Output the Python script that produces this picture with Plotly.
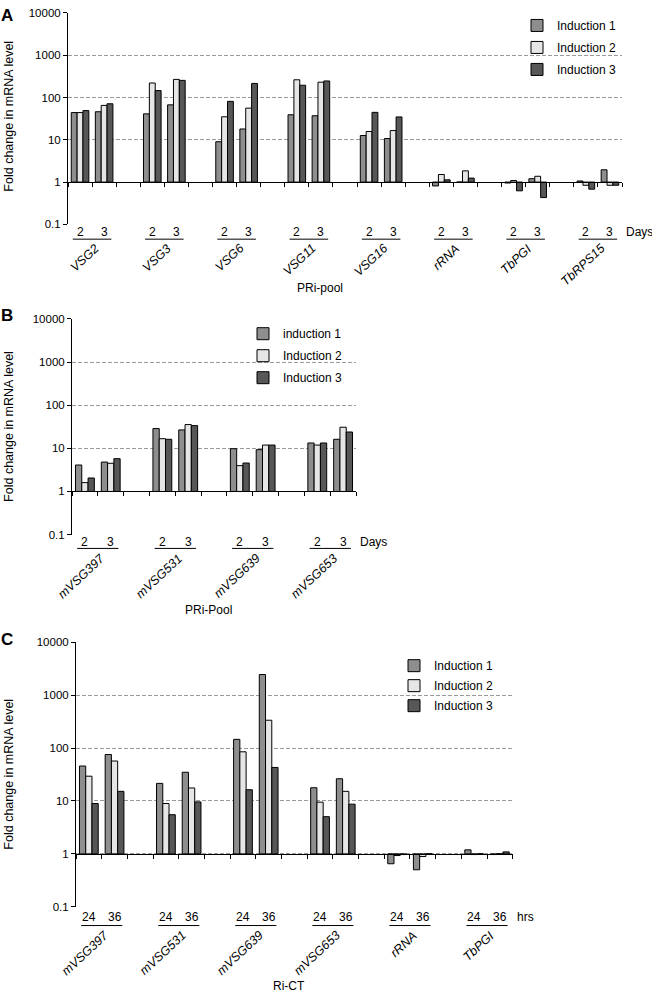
import plotly.graph_objects as go

W, H = 652, 1000
FONT = "Liberation Sans, Arial, sans-serif"

# ---------------- data ----------------
# Panel A (PRi-pool), values per gene for day 2 and day 3
a_genes = ["VSG2", "VSG3", "VSG6", "VSG11", "VSG16", "rRNA", "TbPGI", "TbRPS15"]
a_times = ["2", "3"]
a_ind1 = [44, 46, 41, 67, 9, 18, 39, 37, 12.6, 10.7, 0.81, 1.0, 0.95, 1.2, 1.06, 1.95]
a_ind2 = [44, 65, 220, 268, 35, 56, 262, 230, 15.7, 16.5, 1.51, 1.84, 1.09, 1.37, 0.84, 0.84]
a_ind3 = [49, 71, 146, 254, 81, 215, 195, 246, 44.5, 34.7, 1.13, 1.24, 0.62, 0.43, 0.68, 0.84]

# Panel B (PRi-Pool)
b_genes = ["mVSG397", "mVSG531", "mVSG639", "mVSG653"]
b_times = ["2", "3"]
b_ind1 = [4.1, 4.8, 28.7, 26.7, 9.8, 9.3, 13.3, 16.2]
b_ind2 = [1.6, 4.5, 16.7, 35.5, 3.96, 11.9, 11.9, 30.8]
b_ind3 = [2.05, 5.75, 16.2, 33.6, 4.56, 11.9, 13.3, 23.9]

# Panel C (Ri-CT), values per gene for 24 h and 36 h
c_genes = ["mVSG397", "mVSG531", "mVSG639", "mVSG653", "rRNA", "TbPGI"]
c_times = ["24", "36"]
c_ind1 = [45.8, 75.5, 21.5, 34.9, 146, 2455, 17.8, 26.3, 0.65, 0.5, 1.19, 0.97]
c_ind2 = [29.4, 56.9, 8.95, 17.6, 85, 336, 9.5, 15.2, 0.93, 0.89, 0.97, 1.0]
c_ind3 = [8.95, 15.2, 5.5, 9.6, 16.3, 43, 5.05, 8.7, 0.97, 1.0, 1.0, 1.09]

y_tickvals = [0.1, 1, 10, 100, 1000, 10000]
y_ticktext = ["0.1", "1", "10", "100", "1000", "10000"]

# ---------------- styling / layout positions (pixels) ----------------
colors = ["#8e8e8e", "#e6e6e6", "#575757"]

panels = [
    dict(letter="A", genes=a_genes, times=a_times, vals=[a_ind1, a_ind2, a_ind3],
         names=["Induction 1", "Induction 2", "Induction 3"],
         x0=68, x1=622, ytop=7, ybot=221, unit="Days", title="PRi-pool", title_x=320,
         title_y=285, num_dy=8, line_dy=15, legend_x=557, legend_top=5, legend_gap=3,
         letter_y=10, ytitle_y=112),
    dict(letter="B", genes=b_genes, times=b_times, vals=[b_ind1, b_ind2, b_ind3],
         names=["induction 1", "Induction 2", "Induction 3"],
         x0=72, x1=356, ytop=316.7, ybot=535, unit="Days", title="PRi-Pool", title_x=208,
         title_y=611, num_dy=8, line_dy=14, legend_x=283, legend_top=317, legend_gap=3,
         letter_y=313, ytitle_y=426),
    dict(letter="C", genes=c_genes, times=c_times, vals=[c_ind1, c_ind2, c_ind3],
         names=["Induction 1", "Induction 2", "Induction 3"],
         x0=76, x1=512.7, ytop=644, ybot=911.7, unit="hrs", title="Ri-CT", title_x=289,
         title_y=992, num_dy=10, line_dy=19, legend_x=434, legend_top=653, legend_gap=1,
         letter_y=641, ytitle_y=778),
]


def px(x):
    return x / W


def py(y):
    return 1 - y / H


fig = go.Figure()
annotations = []
shapes = []
layout = {}


def note(text, x, y, xref="paper", xanchor="center", yanchor="middle", size=12, angle=0):
    annotations.append(dict(text=text, x=x, y=y, xref=xref, yref="paper", xanchor=xanchor,
                            yanchor=yanchor, textangle=angle, showarrow=False,
                            font=dict(size=size), borderpad=0))


for i, p in enumerate(panels):
    k = "" if i == 0 else str(i + 1)
    xa, ya = "x" + k, "y" + k
    leg = "legend" + k
    ng = len(p["genes"])
    nt = len(p["times"])
    ncat = ng * (nt + 1) - 1
    xs = [g * (nt + 1) + t for g in range(ng) for t in range(nt)]

    for s in range(3):
        vals = p["vals"][s]
        fig.add_trace(go.Bar(
            x=xs, y=[v - 1 for v in vals], base=1,
            customdata=vals, hovertemplate="%{customdata}<extra></extra>",
            name=p["names"][s], legend=leg, legendgroup=f"{i}-{s}",
            marker=dict(color=colors[s], line=dict(color="black", width=1)),
            xaxis=xa, yaxis=ya,
        ))

    d0, d1 = py(p["ybot"]), py(p["ytop"])
    one_pos = d0 + (d1 - d0) * 0.2  # position of value 1 on log range [-1, 4]
    layout["xaxis" + k] = dict(
        domain=[px(p["x0"]), px(p["x1"])], range=[-0.5, ncat - 0.5],
        anchor="free", position=one_pos, showline=True, linecolor="black", linewidth=1,
        ticks="outside", ticklen=4, tickcolor="black", tickwidth=1,
        tickvals=[j - 0.5 for j in range(ncat + 1)], showticklabels=False,
        showgrid=False, zeroline=False, fixedrange=True,
    )
    layout["yaxis" + k] = dict(
        type="log", range=[-1, 4], domain=[d0, d1], anchor=xa,
        showline=True, linecolor="black", linewidth=1,
        ticks="outside", ticklen=4, tickcolor="black", tickwidth=1,
        tickvals=y_tickvals, ticktext=y_ticktext, tickfont=dict(size=11.5, color="black"),
        showgrid=True, gridcolor="#9a9a9a", griddash="4px,2px", gridwidth=1,
        zeroline=False, fixedrange=True,
    )
    layout[leg] = dict(
        x=px(p["legend_x"] - 40), y=py(p["legend_top"]), xanchor="left", yanchor="top",
        bgcolor="rgba(0,0,0,0)", font=dict(size=12, family=FONT, color="black"),
        tracegroupgap=p["legend_gap"], itemclick=False, itemdoubleclick=False,
    )

    ynum = py(p["ybot"] + p["num_dy"])
    yline = py(p["ybot"] + p["line_dy"])
    for g, gene in enumerate(p["genes"]):
        base = g * (nt + 1)
        for t, tl in enumerate(p["times"]):
            note(tl, base + t, ynum, xref=xa)
        shapes.append(dict(type="line", xref=xa, yref="paper", x0=base - 0.3, x1=base + nt - 0.7,
                           y0=yline, y1=yline, line=dict(color="black", width=1)))
        note(f"<i>{gene}</i>", base + 0.95, py(p["ybot"] + p["line_dy"] + 1), xref=xa,
             xanchor="right", yanchor="top", angle=-43, size=12.5)
    note(p["unit"], px(p["x1"] + 3), ynum, xanchor="left")
    note(p["title"], px(p["title_x"]), py(p["title_y"]))
    note(f"<b>{p['letter']}</b>", px(7), py(p["letter_y"]), size=17)
    note("Fold change in mRNA level", px(9), py(p["ytitle_y"]), size=12.5, angle=-90)

fig.update_layout(
    width=W, height=H, margin=dict(l=0, r=0, t=0, b=0),
    paper_bgcolor="white", plot_bgcolor="white",
    font=dict(family=FONT, color="black", size=12),
    barmode="group", bargap=0.27, bargroupgap=0,
    annotations=annotations, shapes=shapes, **layout,
)

fig.write_html("out.html", config={"displayModeBar": False},
               post_script="document.body.style.margin='0';document.body.style.padding='0';")
